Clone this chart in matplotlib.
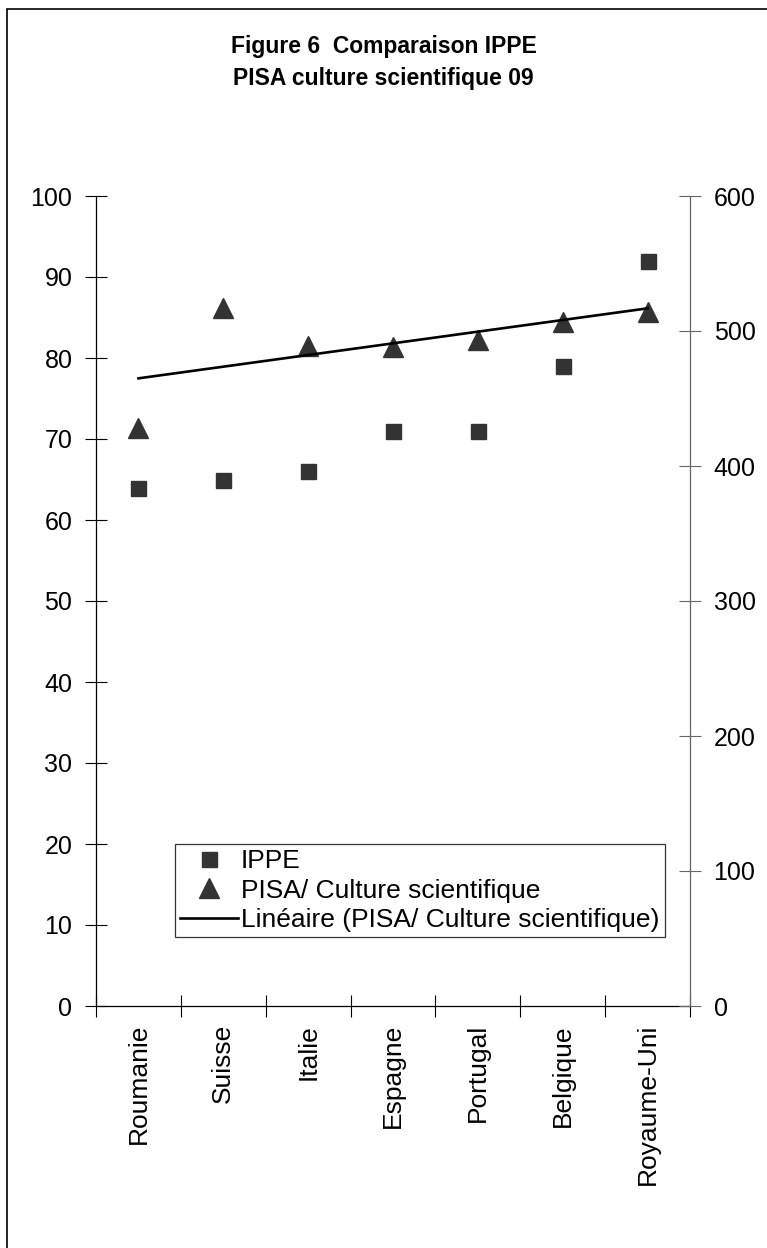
import numpy as np
import matplotlib.pyplot as plt
from matplotlib.patches import Rectangle
from matplotlib.lines import Line2D

plt.rcParams['font.family'] = ['Liberation Sans', 'DejaVu Sans']

pays = ["Roumanie", "Suisse", "Italie", "Espagne", "Portugal", "Belgique", "Royaume-Uni"]
ippe = [64, 65, 66, 71, 71, 79, 92]
pisa = [428, 517, 489, 488, 493, 507, 514]

x = np.arange(1, len(pays) + 1)
pente, origine = np.polyfit(x, pisa, 1)

fig = plt.figure(figsize=(7.67, 12.48), dpi=100)
fig.patches.append(Rectangle((7 / 767, -0.01), 1.1, 1 - 9 / 1248 + 0.01,
                             transform=fig.transFigure, fill=False,
                             edgecolor='black', linewidth=1.2))

ax = fig.add_axes([96 / 767, 1 - 1006 / 1248, 594 / 767, 810 / 1248])
ax2 = ax.twinx()

gris = '#333333'
ax.plot(x, ippe, linestyle='none', marker='s', markersize=10.8, color=gris)
ax2.plot(x, pisa, linestyle='none', marker='^', markersize=14.4, color=gris)
ax2.plot(x, pente * x + origine, color='black', linewidth=1.9)

ax.set_xlim(0.5, 7.5)
ax.set_ylim(0, 100)
ax2.set_ylim(0, 600)
ax.set_yticks(range(0, 101, 10))
ax2.set_yticks(range(0, 601, 100))

ax.set_xticks(x)
ax.set_xticklabels(pays, rotation=90, va='top', ha='center')
ax.set_xticks(np.arange(0.5, 8, 1), minor=True)
ax.tick_params(axis='x', which='major', length=0, pad=13, labelsize=19)
ax.tick_params(axis='x', which='minor', length=16, direction='inout', width=0.8)
ax.tick_params(axis='y', length=16, direction='inout', width=0.8, pad=9, labelsize=18)
ax2.tick_params(axis='y', length=16, direction='inout', width=0.8, pad=9,
                labelsize=18, color='#666666')

for a in (ax, ax2):
    a.spines['top'].set_visible(False)
ax.spines['right'].set_visible(False)
ax2.spines['left'].set_visible(False)
ax2.spines['bottom'].set_visible(False)
ax2.spines['right'].set_color('#666666')
for s in ('left', 'bottom'):
    ax.spines[s].set_linewidth(0.9)
ax2.spines['right'].set_linewidth(0.9)

fig.text(0.5, 1 - 46 / 1248, "Figure 6  Comparaison IPPE", ha='center', va='center',
         fontsize=16.5, fontweight='bold')
fig.text(0.5, 1 - 78 / 1248, "PISA culture scientifique 09", ha='center', va='center',
         fontsize=16.5, fontweight='bold')

poignees = [
    Line2D([], [], linestyle='none', marker='s', markersize=10.8, color=gris),
    Line2D([], [], linestyle='none', marker='^', markersize=14.4, color=gris),
    Line2D([], [], color='black', linewidth=1.9),
]
libelles = ["IPPE", "PISA/ Culture scientifique", "Linéaire (PISA/ Culture scientifique)"]
leg = ax2.legend(poignees, libelles, loc='upper left',
                 bbox_to_anchor=(175 / 767, 1 - 844 / 1248), bbox_transform=fig.transFigure,
                 fontsize=19, frameon=True, fancybox=False, borderaxespad=0,
                 borderpad=0.2, handlelength=2.2, handletextpad=0.1,
                 labelspacing=0.2)
leg.get_frame().set_edgecolor('black')
leg.get_frame().set_linewidth(0.9)

fig.savefig("out.png", dpi=100)
